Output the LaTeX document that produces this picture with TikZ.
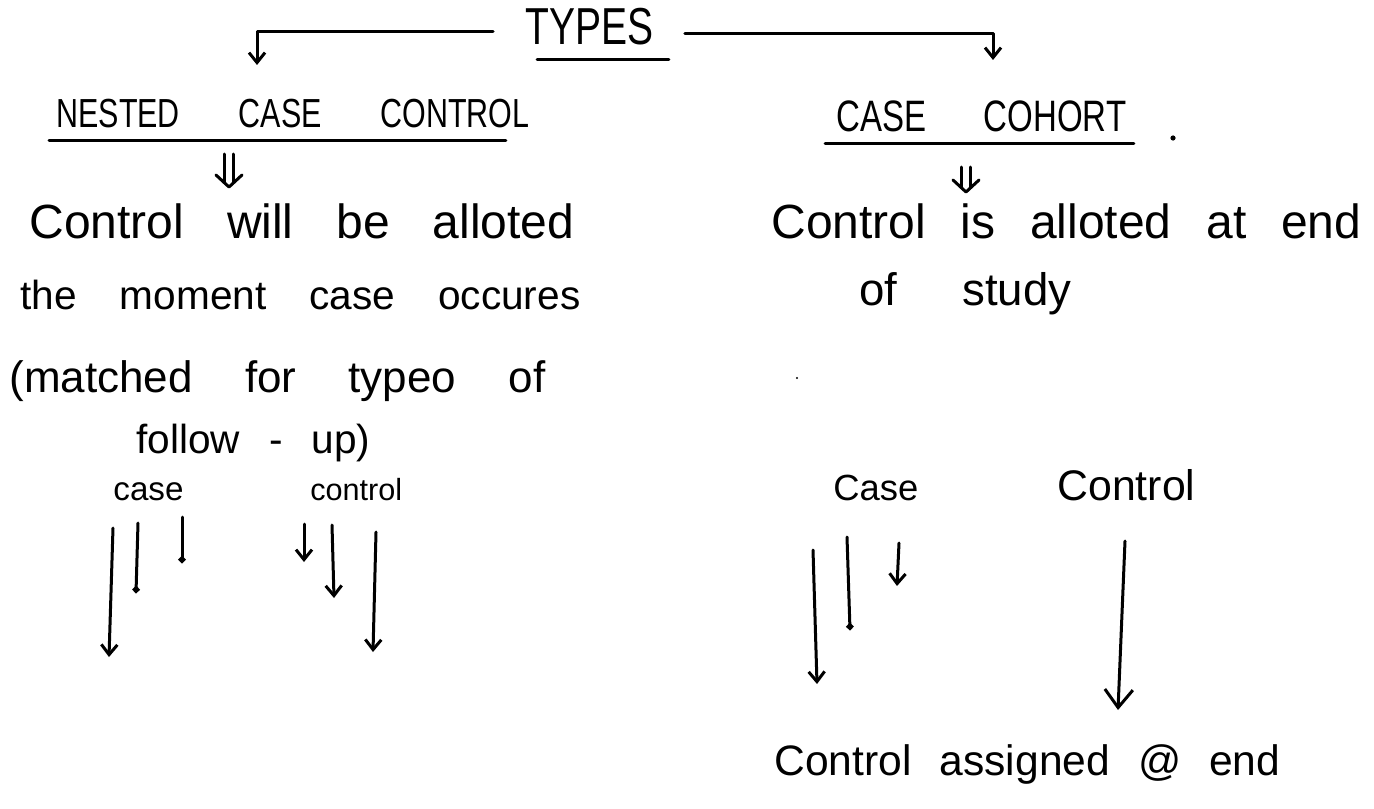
\documentclass[tikz,border=0pt]{standalone}
\usepackage{fontspec}
\setmainfont{Liberation Sans}
\newfontfamily\handfont{Liberation Sans}
\newfontfamily\capsfont[FakeStretch=0.75]{Liberation Sans}
\usetikzlibrary{arrows.meta}
\newcommand\hwsize[1]{\fontsize{#1}{#1}\selectfont}
\begin{document}
\begin{tikzpicture}[x=0.5pt,y=-0.5pt,
  txt/.style={inner sep=0pt, anchor=base west, font=\handfont},
  hd/.style={inner sep=0pt, anchor=base west, font=\capsfont},
  pen/.style={line width=1.5pt, line cap=round, line join=round},
  tip/.style={pen, -{Straight Barb[length=5pt,width=8pt]}},
  bigtip/.style={pen, -{Straight Barb[length=9pt,width=14pt]}},
  dottip/.style={pen, -{Circle[length=3.4pt]}}]
\useasboundingbox (0,0) rectangle (1374,808);

% headings
\node[hd] (types) at (527,45) {\hwsize{26}\makebox[62.5pt][c]{TYPES}};
\node[hd] (ncc) at (56,127) {\hwsize{20.3}\makebox[236.5pt][s]{NESTED CASE CONTROL}};
\node[hd] (cc) at (836,132) {\hwsize{22}\makebox[145pt][s]{CASE COHORT}};

% underlines
\draw[pen] ([xshift=5pt,yshift=-7.5pt]types.base west) -- ([xshift=8pt,yshift=-7.5pt]types.base east);
\draw[pen] ([xshift=-3.5pt,yshift=-6.5pt]ncc.base west) -- ([xshift=-12pt,yshift=-6.5pt]ncc.base east);
\draw[pen] ([xshift=-5.5pt,yshift=-5.5pt]cc.base west) -- ([xshift=3.5pt,yshift=-5.5pt]cc.base east);

% bracket from TYPES
\coordinate (lbend) at (257,65);
\coordinate (rbend) at (993,60);
\draw[tip] ([xshift=-17pt,yshift=-2pt]types.west) -| (lbend);
\draw[tip] ([xshift=16pt,yshift=-3pt]types.east) -| (rbend);

% left column text
\node[txt] (l1) at (29,238) {\hwsize{24}\makebox[272.5pt][s]{Control will be alloted}};
\node[txt] (l2) at (20,309) {\hwsize{20.3}\makebox[280pt][s]{the moment case occures}};
\node[txt] (l3) at (9,392) {\hwsize{22}\makebox[268pt][s]{(matched for typeo of}};
\node[txt] (l4) at (136,453) {\hwsize{20.3}\makebox[117pt][s]{follow - up)}};
\node[txt] (case1) at (113,500) {\hwsize{16.6}case};
\node[txt] (ctrl1) at (310,500) {\hwsize{15.3}control};

% right column text
\node[txt] (r1) at (771,238) {\hwsize{24}\makebox[295pt][s]{Control is alloted at end}};
\node[txt] (r2) at (859,305) {\hwsize{22.8}\makebox[106pt][s]{of study}};
\node[txt] (case2) at (833,500) {\hwsize{18.2}Case};
\node[txt] (ctrl2) at (1057,500) {\hwsize{21.4}Control};
\node[txt] (r3) at (774,775) {\hwsize{21.3}\makebox[253pt][s]{Control assigned @ end}};

% double arrows (drawn by hand: two shafts and a V head)
\coordinate (d1s) at (229,154); \coordinate (d1e) at (229,187);
\coordinate (d2s) at (966,167); \coordinate (d2e) at (966,192);
\foreach \s/\e in {d1s/d1e, d2s/d2e} {
  \draw[pen] ([xshift=-2.2pt]\s) -- ([xshift=-2.2pt,yshift=2pt]\e);
  \draw[pen] ([xshift=2.2pt]\s) -- ([xshift=2.2pt,yshift=2pt]\e);
  \draw[pen] ([xshift=-6.5pt,yshift=6pt]\e) -- (\e) -- ([xshift=6.5pt,yshift=6pt]\e);
}

% left timelines
\coordinate (a1s) at (113,528); \coordinate (a1e) at (109,657);
\coordinate (a2s) at (138,523); \coordinate (a2e) at (136,593);
\coordinate (a3s) at (182,517); \coordinate (a3e) at (182,563);
\coordinate (b1s) at (304,524); \coordinate (b1e) at (304,562);
\coordinate (b2s) at (332,525); \coordinate (b2e) at (334,598);
\coordinate (b3s) at (376,532); \coordinate (b3e) at (373,652);
\draw[tip] (a1s) -- (a1e);
\draw[dottip] (a2s) -- (a2e);
\draw[dottip] (a3s) -- (a3e);
\draw[tip] (b1s) -- (b1e);
\draw[tip] (b2s) -- (b2e);
\draw[tip] (b3s) -- (b3e);

% right timelines
\coordinate (c1s) at (813,550); \coordinate (c1e) at (817,684);
\coordinate (c2s) at (847,537); \coordinate (c2e) at (850,630);
\coordinate (c3s) at (899,543); \coordinate (c3e) at (897,586);
\coordinate (e1s) at (1125,541); \coordinate (e1e) at (1118,710);
\draw[tip] (c1s) -- (c1e);
\draw[dottip] (c2s) -- (c2e);
\draw[tip] (c3s) -- (c3e);
\draw[bigtip] (e1s) -- (e1e);

% stray dots
\fill (1173,138) circle[radius=1.3pt];
\fill (797,378) circle[radius=0.6pt];
\end{tikzpicture}
\end{document}
